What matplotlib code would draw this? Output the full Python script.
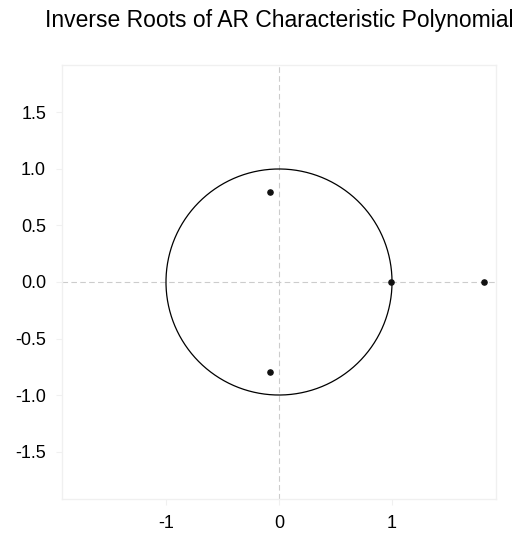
import numpy as np
import matplotlib.pyplot as plt

plt.rcParams['font.family'] = ['Liberation Sans', 'DejaVu Sans']

# inverse roots (real, imaginary)
root_re = [-0.082, -0.082, 0.995, 1.81]
root_im = [0.796, -0.796, 0.0, 0.0]

xticks = [-1, 0, 1]
yticks = [-1.5, -1.0, -0.5, 0.0, 0.5, 1.0, 1.5]

fig = plt.figure(figsize=(5.19, 5.33), dpi=100)
ax = fig.add_axes([62 / 519, 34 / 533, 434 / 519, 434 / 533])

ax.axhline(0, color='#cccccc', lw=0.8, ls=(0, (5, 3)), zorder=1)
ax.axvline(0, color='#cccccc', lw=0.8, ls=(0, (5, 3)), zorder=1)

t = np.linspace(0, 2 * np.pi, 400)
ax.plot(np.cos(t), np.sin(t), color='black', lw=0.9, zorder=2)
ax.scatter(root_re, root_im, s=14, color='#111111', zorder=3)

ax.set_xlim(-1.92, 1.92)
ax.set_ylim(-1.92, 1.92)
ax.set_xticks(xticks)
ax.set_xticklabels([str(v) for v in xticks])
ax.set_yticks(yticks)
ax.set_yticklabels(['%.1f' % v for v in yticks])

for s in ax.spines.values():
    s.set_color('#f0f0f0')
    s.set_linewidth(1.0)
ax.tick_params(colors='#f0f0f0', labelcolor='black', labelsize=13, length=4.5, pad=7)

ax.set_title('Inverse Roots of AR Characteristic Polynomial', fontsize=16.5, pad=27)

plt.savefig('out.png', dpi=100)
